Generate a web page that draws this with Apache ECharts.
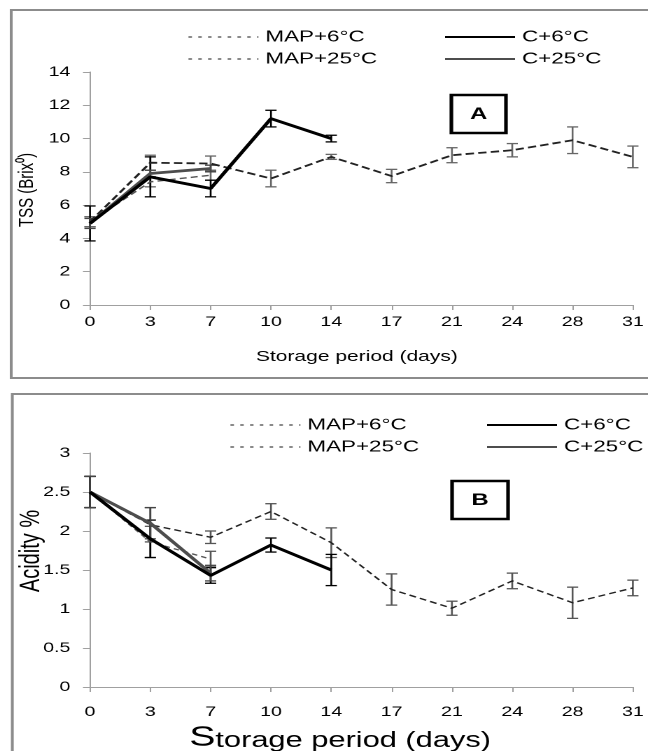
<!DOCTYPE html>
<html>
<head>
<meta charset="utf-8">
<script src="https://cdn.jsdelivr.net/npm/echarts@6/dist/echarts.min.js"></script>
<style>
html,body{margin:0;padding:0;background:#fff;overflow:hidden;width:648px;height:751px;}
#chart{width:463px;height:751px;transform:scaleX(1.39957);transform-origin:0 0;}
</style>
</head>
<body>
<div id="chart"></div>
<script>
// ---------- data ----------
const days = ['0','3','7','10','14','17','21','24','28','31'];

// Chart A: TSS (Brix)
const tssMap6     = [5.0, 8.55, 8.5, 7.6, 8.9, 7.75, 9.0, 9.3, 9.9, 8.9];
const tssMap6Err  = [0.3, 0.45, 0.45, 0.5, 0.15, 0.4, 0.45, 0.4, 0.8, 0.65];
const tssMap25    = [5.0, 7.4, 7.8];
const tssMap25Err = [0.3, 0.3, 0.3];
const tssC6       = [4.9, 7.7, 7.0, 11.2, 10.0];
const tssC6Err    = [1.05, 1.2, 0.5, 0.5, 0.2];
const tssC25      = [4.9, 7.9, 8.2];
const tssC25Err   = [0.3, 0.2, 0.2];

// Chart B: Acidity %
const acMap6     = [2.5, 2.08, 1.92, 2.25, 1.85, 1.25, 1.01, 1.36, 1.08, 1.27];
const acMap6Err  = [0.2, 0.22, 0.08, 0.1, 0.19, 0.2, 0.09, 0.1, 0.2, 0.1];
const acMap25    = [2.5, 1.86, 1.64];
const acMap25Err = [0.2, 0.2, 0.1];
const acC6       = [2.5, 1.9, 1.43, 1.82, 1.5];
const acC6Err    = [0.2, 0.24, 0.1, 0.09, 0.2];
const acC25      = [2.5, 2.1, 1.46];
const acC25Err   = [0.2, 0.2, 0.1];

const seriesNames = ['MAP+6°C', 'MAP+25°C', 'C+6°C', 'C+25°C'];
const tssAxisTitle = 'TSS (Brix⁰)';
const acAxisTitle = 'Acidity %';
const xAxisTitle = 'Storage period (days)';

// ---------- styles ----------
const FONT = 'Liberation Sans, Arial, sans-serif';
const AXIS_GRAY = '#a0a0a0';

function lineSeries(name, gi, vals, color, width, dash) {
  return {
    type: 'line', name, xAxisIndex: gi, yAxisIndex: gi, data: vals,
    symbol: 'none', z: 3, silent: true,
    itemStyle: { color },
    lineStyle: { color, width, type: dash || 'solid' }
  };
}
function errSeries(name, gi, vals, errs, color) {
  const data = vals.map((v, i) => [i, v - errs[i], v + errs[i]]);
  return {
    type: 'custom', name: name + ' err', xAxisIndex: gi, yAxisIndex: gi, data, z: 2, silent: true,
    encode: { x: 0, y: [1, 2] },
    renderItem: function (params, api) {
      const x = api.value(0);
      const lo = api.coord([x, api.value(1)]);
      const hi = api.coord([x, api.value(2)]);
      const w = 4;
      const st = { stroke: color, lineWidth: 1.3 };
      return {
        type: 'group', children: [
          { type: 'line', shape: { x1: lo[0], y1: lo[1], x2: hi[0], y2: hi[1] }, style: st },
          { type: 'line', shape: { x1: lo[0] - w, y1: lo[1], x2: lo[0] + w, y2: lo[1] }, style: st },
          { type: 'line', shape: { x1: hi[0] - w, y1: hi[1], x2: hi[0] + w, y2: hi[1] }, style: st }
        ]
      };
    }
  };
}

function xAxisCfg(gi, margin) {
  return {
    type: 'category', gridIndex: gi, data: days, boundaryGap: false,
    axisLine: { lineStyle: { color: AXIS_GRAY, width: 1 } },
    axisTick: { show: true, length: 5, lineStyle: { color: AXIS_GRAY } },
    axisLabel: { interval: 0, fontSize: 14, color: '#000', margin, fontFamily: FONT },
    splitLine: { show: false }
  };
}
function yAxisCfg(gi, max, interval) {
  return {
    type: 'value', gridIndex: gi, min: 0, max, interval,
    axisLine: { show: true, lineStyle: { color: AXIS_GRAY, width: 1 } },
    axisTick: { show: true, length: 5, lineStyle: { color: AXIS_GRAY } },
    axisLabel: { fontSize: 14, color: '#000', margin: 14, fontFamily: FONT },
    splitLine: { show: false }
  };
}

const mapLegendLine = { type: [2.5, 4.5], width: 1.3, color: '#444' };
function legendCfg(names, left, top, isMap) {
  return {
    orient: 'vertical', left, top, padding: 0, itemWidth: 50, itemHeight: 14, itemGap: 6,
    selectedMode: false,
    itemStyle: { opacity: 0 },
    textStyle: { fontSize: 16, color: '#000', fontFamily: FONT, lineHeight: 16 },
    data: names.map(n => isMap ? { name: n, lineStyle: mapLegendLine, itemStyle: { opacity: 0 } } : { name: n, itemStyle: { opacity: 0 } })
  };
}

const chart = echarts.init(document.getElementById('chart'), null, { renderer: 'canvas', devicePixelRatio: 2 });

const option = {
  animation: false,
  backgroundColor: '#fff',
  grid: [
    { left: 64.3, top: 72, width: 387.9, height: 233 },
    { left: 64.3, top: 453, width: 387.9, height: 234 }
  ],
  xAxis: [xAxisCfg(0, 10), xAxisCfg(1, 18)],
  yAxis: [yAxisCfg(0, 14, 2), yAxisCfg(1, 3, 0.5)],
  legend: [
    legendCfg([seriesNames[0], seriesNames[1]], 134, 29, true),
    legendCfg([seriesNames[2], seriesNames[3]], 317, 29, false),
    legendCfg([seriesNames[0], seriesNames[1]], 164, 417, true),
    legendCfg([seriesNames[2], seriesNames[3]], 347, 417, false)
  ],
  series: [
    // chart A
    errSeries('MAP+6°C', 0, tssMap6, tssMap6Err, '#666'),
    errSeries('MAP+25°C', 0, tssMap25, tssMap25Err, '#666'),
    errSeries('C+6°C', 0, tssC6, tssC6Err, '#000'),
    errSeries('C+25°C', 0, tssC25, tssC25Err, '#444'),
    lineSeries('MAP+6°C', 0, tssMap6, '#222', 1.8, [6, 3]),
    lineSeries('MAP+25°C', 0, tssMap25, '#555', 1.4, [5, 3]),
    lineSeries('C+25°C', 0, tssC25, '#4d4d4d', 2.8),
    lineSeries('C+6°C', 0, tssC6, '#000', 2.8),
    // chart B
    errSeries('MAP+6°C', 1, acMap6, acMap6Err, '#555'),
    errSeries('MAP+25°C', 1, acMap25, acMap25Err, '#555'),
    errSeries('C+6°C', 1, acC6, acC6Err, '#000'),
    errSeries('C+25°C', 1, acC25, acC25Err, '#444'),
    lineSeries('MAP+6°C', 1, acMap6, '#222', 1.4, [5, 3]),
    lineSeries('MAP+25°C', 1, acMap25, '#555', 1.3, [4, 3]),
    lineSeries('C+25°C', 1, acC25, '#4d4d4d', 2.8),
    lineSeries('C+6°C', 1, acC6, '#000', 2.8)
  ],
  graphic: [
    { type: 'rect', shape: { x: 8, y: 10, width: 470, height: 368 }, style: { fill: 'none', stroke: '#8c8c8c', lineWidth: 2 }, silent: true, z: 0 },
    { type: 'rect', shape: { x: 8.8, y: 394, width: 470, height: 400 }, style: { fill: 'none', stroke: '#8c8c8c', lineWidth: 2 }, silent: true, z: 0 },
    { type: 'rect', shape: { x: 322.5, y: 95, width: 39, height: 38 }, style: { fill: '#fff', stroke: '#000', lineWidth: 2.6 }, silent: true, z: 10 },
    { type: 'text', x: 342, y: 114.5, z: 11, silent: true,
      style: { text: 'A', textAlign: 'center', textVerticalAlign: 'middle', fontSize: 17, fontWeight: 'bold', fontFamily: FONT, fill: '#000' } },
    { type: 'rect', shape: { x: 323, y: 481, width: 40, height: 38 }, style: { fill: '#fff', stroke: '#000', lineWidth: 2.6 }, silent: true, z: 10 },
    { type: 'text', x: 343, y: 500.5, z: 11, silent: true,
      style: { text: 'B', textAlign: 'center', textVerticalAlign: 'middle', fontSize: 17, fontWeight: 'bold', fontFamily: FONT, fill: '#000' } },
    // axis titles
    { type: 'text', x: 19.5, y: 190, rotation: Math.PI / 2, silent: true,
      style: { text: tssAxisTitle, textAlign: 'center', textVerticalAlign: 'middle', fontSize: 15, fontFamily: FONT, fill: '#000' } },
    { type: 'text', x: 255, y: 357, silent: true,
      style: { text: xAxisTitle, textAlign: 'center', textVerticalAlign: 'middle', fontSize: 15, fontFamily: FONT, fill: '#000' } },
    { type: 'text', x: 22.5, y: 551, rotation: Math.PI / 2, silent: true,
      style: { text: acAxisTitle, textAlign: 'center', textVerticalAlign: 'middle', fontSize: 20, fontFamily: FONT, fill: '#000' } },
    { type: 'text', x: 243, y: 738, silent: true,
      style: {
        text: '{big|' + xAxisTitle.charAt(0) + '}{n|' + xAxisTitle.slice(1) + '}',
        textAlign: 'center', textVerticalAlign: 'middle', fill: '#000',
        rich: {
          big: { fontSize: 28, fontFamily: FONT, fill: '#000', verticalAlign: 'bottom' },
          n: { fontSize: 22, fontFamily: FONT, fill: '#000', verticalAlign: 'bottom' }
        }
      } }
  ]
};
chart.setOption(option);
</script>
</body>
</html>
